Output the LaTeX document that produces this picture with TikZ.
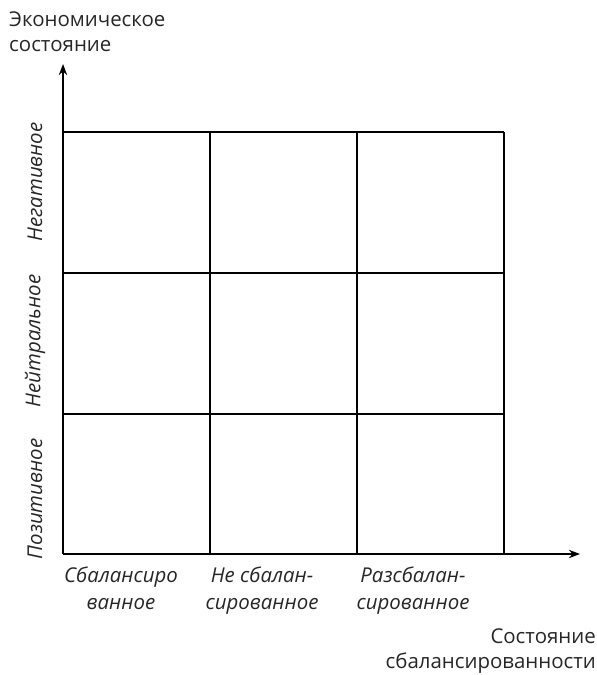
\documentclass[tikz,border=0pt]{standalone}
\usepackage{fontspec}
\setmainfont{Open Sans}
\usepackage{tikz}
\usetikzlibrary{arrows.meta,positioning}

\tikzset{
  axislabel/.style={font=\fontsize{20.5}{25}\selectfont,align=left,inner sep=0pt,text=black!85},
  rowlabel/.style={font=\fontsize{20.5}{25}\selectfont\itshape,rotate=90,inner sep=0pt,text=black!85},
  collabel/.style={font=\fontsize{20.5}{27}\selectfont\itshape,align=center,inner sep=0pt,text=black!85},
  gridline/.style={line width=2pt}
}

\begin{document}
\begin{tikzpicture}[x=1bp,y=-1bp,>=Stealth]
  \useasboundingbox (0,0) rectangle (597,675);

  % axes
  \coordinate (O) at (63,554);
  \coordinate (ytop) at (63,64);
  \coordinate (xend) at (580,554);
  \draw[->,line width=1.8pt] (O) -- (ytop);
  \draw[->,line width=1.8pt] (O) -- (xend);

  % the 3x3 grid
  \foreach \x in {63,210,357,504}
    \draw[gridline] (\x,132) -- (\x,554);
  \foreach \y in {132,273,414}
    \draw[gridline] (63,\y) -- (504,\y);

  % axis titles
  \node[axislabel,anchor=north west] (ytitle) at (9,12) {Экономическое\\состояние};
  \node[axislabel,anchor=south east,align=right] (xtitle) at (596,674) {Состояние\\сбалансированности};

  % rows
  \node[rowlabel] (pos) at (35,499) {Позитивное};
  \node[rowlabel] (neu) at (35,341) {Нейтральное};
  \node[rowlabel] (neg) at (35,182) {Негативное};

  % columns
  \node[collabel,anchor=north] (bal) at (121,567) {Сбалансиро\\ванное};
  \node[collabel,anchor=north] (unb) at (262,567) {Не сбалан-\\сированное};
  \node[collabel,anchor=north] (dis) at (413,567) {Разсбалан-\\сированное};
\end{tikzpicture}
\end{document}
